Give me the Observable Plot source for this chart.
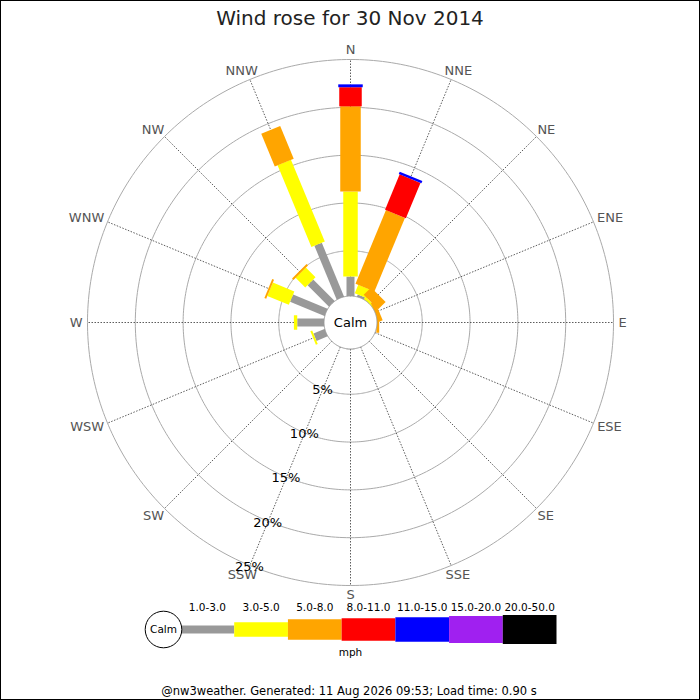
<!DOCTYPE html>
<html><head><meta charset="utf-8">
<script src="https://cdn.jsdelivr.net/npm/d3@7"></script>
<script src="https://cdn.jsdelivr.net/npm/@observablehq/plot@0.6"></script>
<style>
html,body{margin:0;padding:0;background:#fff;}
#wrap{position:relative;width:700px;height:700px;outline:1px solid #000;outline-offset:-1px;overflow:hidden;font-family:"DejaVu Sans",sans-serif;}
#title{position:absolute;left:0;top:0;width:700px;text-align:center;font-size:20px;line-height:24px;padding-top:6px;color:#222;}
#main{position:absolute;left:0;top:36px;}
#legend{position:absolute;left:0;top:600px;}
#mph{position:absolute;left:0;top:646px;width:701px;text-align:center;font-size:10.5px;line-height:12px;color:#000;}
#footer{position:absolute;left:0;top:684px;width:698px;text-align:center;font-size:11.5px;line-height:14px;color:#000;}
</style></head>
<body>
<div id="wrap">
  <div id="title">Wind rose for 30 Nov 2014</div>
  <div id="main"></div>
  <div id="legend"></div>
  <div id="mph">mph</div>
  <div id="footer">@nw3weather. Generated: 11 Aug 2026 09:53; Load time: 0.90 s</div>
</div>
<script>
// ---------- DATA ----------
const directions = ["N","NNE","NE","ENE","E","ESE","SE","SSE","S","SSW","SW","WSW","W","WNW","NW","NNW"];
const speedClasses = ["1.0-3.0","3.0-5.0","5.0-8.0","8.0-11.0","11.0-15.0","15.0-20.0","20.0-50.0"];
// percentage of time per direction, per speed class (mph)
const pct_1_3   = [2.3, 0.5, 0.15,0.1, 0.1, 0,0,0, 0.3, 0.25,0, 1.52,3.07,4.17,3.43,6.35];
const pct_3_5   = [8.9, 0.95,0.37,0.15,0.1, 0,0,0, 0,   0,   0, 0.21,0.35,2.43,1.43,9.25];
const pct_5_8   = [8.9, 8.33,1.1, 0.45,0.3, 0,0,0, 0,   0,   0, 0,   0,   0.2, 0.21,3.7];
const pct_8_11  = [2.0, 4.0, 0,   0,   0,   0,0,0, 0,   0,   0, 0,   0,   0,   0,   0];
const pct_11_15 = [0.3, 0.26,0,   0,   0,   0,0,0, 0,   0,   0, 0,   0,   0,   0,   0];
const pct_15_20 = [0,0,0,0,0,0,0,0,0,0,0,0,0,0,0,0];
const pct_20_50 = [0,0,0,0,0,0,0,0,0,0,0,0,0,0,0,0];
const ringPercents = [5,10,15,20,25];
const ringLabels = ["5%","10%","15%","20%","25%"];

// ---------- STYLE ----------
const classColors = ["#999999","#ffff00","#ffa500","#ff0000","#0000ff","#a020f0","#000000"];
const barWidths   = [8,14.5,20.5,22.5,24.5,27,29];
const K = 9.564;          // px per percent
const OFF = 2.5;          // radial offset (percent units) of zero
const CALM_R = 26.5 / K;  // calm circle radius in percent units
const LABEL_R = 268 / K;  // direction label anchor radius
const DIR_FONT = 13;

// ---------- BUILD ----------
const series = [pct_1_3,pct_3_5,pct_5_8,pct_8_11,pct_11_15,pct_15_20,pct_20_50];
const rad = a => a * Math.PI / 180;
const segments = [];
directions.forEach((d, i) => {
  let cum = 0;
  series.forEach((s, c) => {
    const v = s[i];
    if (v > 0) segments.push({dir: d, angle: i * 22.5, cls: c, r0: cum, r1: cum + v});
    cum += v;
  });
});
const dirRows = directions.map((d, i) => ({dir: d, angle: i * 22.5}));
function circle(r, key) {
  const pts = [];
  for (let a = 0; a < 360; a += 1) pts.push({x: r * Math.sin(rad(a)), y: r * Math.cos(rad(a)), key});
  return pts;
}
const ringPts = ringPercents.flatMap(p => circle(OFF + p, p));
const calmPts = circle(CALM_R, "calm");
const ringLabelRows = ringPercents.map((p, i) => ({p, label: ringLabels[i]}));
const SSW = 202.5;

const ctx = document.createElement("canvas").getContext("2d");
ctx.font = DIR_FONT + "px 'DejaVu Sans'";

const barMarks = speedClasses.map((name, c) =>
  Plot.link(segments.filter(s => s.cls === c), {
    x1: s => (OFF + s.r0) * Math.sin(rad(s.angle)),
    y1: s => (OFF + s.r0) * Math.cos(rad(s.angle)),
    x2: s => (OFF + s.r1) * Math.sin(rad(s.angle)),
    y2: s => (OFF + s.r1) * Math.cos(rad(s.angle)),
    stroke: classColors[c],
    strokeWidth: barWidths[c],
    strokeLinecap: "butt"
  })
);

const dirLabelMarks = dirRows.map(d => {
  const w = ctx.measureText(d.dir).width;
  return Plot.text([d], {
    x: r => LABEL_R * Math.sin(rad(r.angle)), y: r => LABEL_R * Math.cos(rad(r.angle)),
    text: "dir", fontSize: DIR_FONT, fill: "#555",
    dx: Math.sin(rad(d.angle)) * w / 2,
    dy: -Math.cos(rad(d.angle)) * 4.75
  });
});

const main = Plot.plot({
  width: 700, height: 564, margin: 0,
  style: {fontFamily: "DejaVu Sans", background: "transparent", overflow: "visible"},
  x: {domain: [-350 / K, 350 / K], range: [0, 700], axis: null},
  y: {domain: [-278 / K, 286 / K], range: [564, 0], axis: null},
  marks: [
    Plot.line(ringPts, {x: "x", y: "y", z: "key", stroke: "#aaaaaa", strokeWidth: 1, curve: "linear-closed"}),
    Plot.link(dirRows, {
      x1: d => CALM_R * Math.sin(rad(d.angle)), y1: d => CALM_R * Math.cos(rad(d.angle)),
      x2: d => (OFF + 25) * Math.sin(rad(d.angle)), y2: d => (OFF + 25) * Math.cos(rad(d.angle)),
      stroke: "#333", strokeWidth: 0.8, strokeDasharray: "1.5,1.5"
    }),
    ...barMarks,
    Plot.line(calmPts, {x: "x", y: "y", fill: "white", stroke: "#999", strokeWidth: 1, curve: "linear-closed"}),
    Plot.text(["Calm"], {x: () => 0, y: () => 0, text: d => d, fontSize: 13, fill: "#000"}),
    ...dirLabelMarks,
    Plot.text(ringLabelRows, {
      x: d => (OFF + d.p + 0.12) * Math.sin(rad(SSW)), y: d => (OFF + d.p + 0.12) * Math.cos(rad(SSW)),
      text: "label", fontSize: 13, fill: "#000"
    })
  ]
});
document.getElementById("main").appendChild(main);

const legendRows = speedClasses.map((name, c) => ({name, c}));
const legend = Plot.plot({
  width: 700, height: 62, margin: 0,
  style: {fontFamily: "DejaVu Sans", background: "transparent", overflow: "visible"},
  x: {domain: [0, 7], range: [180, 556], axis: null},
  y: {domain: [-33, 29], range: [62, 0], axis: null},
  marks: [
    ...legendRows.map(r => Plot.link([r], {
      x1: d => d.c, x2: d => d.c + 1, y1: () => 0, y2: () => 0,
      stroke: classColors[r.c], strokeWidth: barWidths[r.c], strokeLinecap: "butt"
    })),
    Plot.text(legendRows, {x: d => d.c + 0.5, y: () => 22, text: "name", fontSize: 10.5, fill: "#000"}),
    Plot.dot(["Calm"], {x: () => 0, y: () => 0, dx: -17, r: 18.3, fill: "white", stroke: "#000", strokeWidth: 1}),
    Plot.text(["Calm"], {x: () => 0, y: () => 0, dx: -17, text: d => d, fontSize: 10.5, fill: "#000"})
  ]
});
document.getElementById("legend").appendChild(legend);
</script>
</body></html>
